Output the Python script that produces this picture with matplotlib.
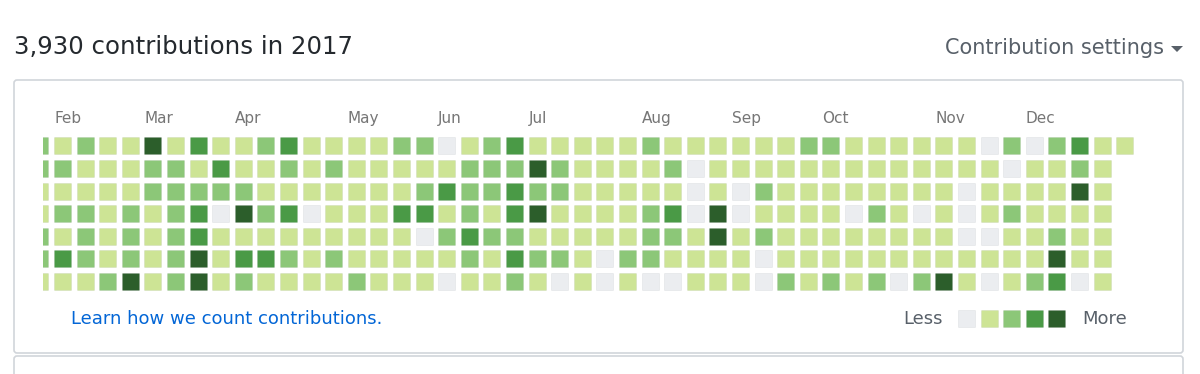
import matplotlib
matplotlib.use("Agg")
import matplotlib.pyplot as plt
from matplotlib.patches import Rectangle, FancyBboxPatch, Polygon

# contribution level per day (0..4); one list per weekday row, one entry per week column
sun = [2, 1, 2, 1, 1, 4, 1, 3, 1, 1, 2, 3, 1, 1, 1, 1, 2, 2, 0, 1, 2, 3, 1, 1, 1,
       1, 1, 2, 1, 1, 1, 1, 1, 1, 2, 2, 1, 1, 1, 1, 1, 1, 0, 2, 0, 2, 3, 1, 1]
mon = [2, 2, 1, 1, 1, 2, 2, 1, 3, 1, 1, 2, 1, 2, 1, 1, 1, 1, 1, 2, 2, 2, 4, 2, 1,
       1, 1, 1, 2, 0, 1, 1, 1, 1, 1, 1, 1, 1, 1, 1, 1, 1, 1, 0, 1, 1, 2, 1]
tue = [1, 1, 1, 1, 1, 2, 2, 2, 2, 2, 1, 1, 1, 1, 1, 1, 1, 2, 3, 2, 2, 3, 2, 2, 1,
       1, 1, 1, 1, 0, 1, 0, 2, 1, 1, 1, 1, 1, 1, 1, 1, 0, 1, 1, 1, 1, 4, 1]
wed = [1, 2, 2, 1, 2, 1, 2, 3, 0, 4, 2, 3, 0, 1, 1, 1, 3, 3, 1, 2, 1, 3, 4, 1, 1,
       1, 1, 2, 3, 0, 4, 0, 1, 1, 1, 1, 0, 2, 1, 0, 1, 0, 1, 2, 1, 1, 1, 1]
thu = [2, 1, 2, 1, 2, 1, 2, 3, 1, 1, 1, 1, 1, 1, 1, 1, 1, 0, 2, 3, 2, 2, 1, 1, 1,
       1, 1, 2, 2, 1, 4, 1, 2, 1, 1, 1, 1, 1, 1, 1, 1, 0, 0, 1, 1, 2, 1, 1]
fri = [2, 3, 2, 1, 2, 1, 2, 4, 1, 3, 3, 2, 1, 2, 1, 1, 1, 1, 1, 2, 1, 3, 2, 2, 1,
       0, 2, 2, 1, 1, 1, 1, 0, 1, 1, 1, 1, 1, 1, 1, 1, 1, 1, 1, 1, 4, 1, 1]
sat = [1, 1, 1, 2, 4, 1, 2, 4, 1, 2, 1, 1, 1, 1, 2, 1, 1, 1, 0, 1, 1, 2, 1, 0, 1,
       0, 1, 0, 0, 1, 1, 1, 0, 2, 1, 2, 1, 2, 0, 2, 4, 1, 0, 1, 2, 3, 0, 1]
days = [sun, mon, tue, wed, thu, fri, sat]

months = ['Feb', 'Mar', 'Apr', 'May', 'Jun', 'Jul', 'Aug', 'Sep', 'Oct', 'Nov', 'Dec']
month_week = [1, 5, 9, 14, 18, 22, 27, 31, 35, 40, 44]

palette = ['#ebedf0', '#cde495', '#8cc778', '#4a9a46', '#2c5e2b']

W, H = 1200, 374
fig = plt.figure(figsize=(W / 100, H / 100), dpi=100)

# page layer in pixel coordinates: boxes and texts
bg = fig.add_axes([0, 0, 1, 1])
bg.set_xlim(0, W)
bg.set_ylim(H, 0)
bg.axis('off')

border = '#d1d5da'
bg.add_patch(FancyBboxPatch((14, 80), 1169, 273, boxstyle='round,pad=0,rounding_size=3',
                            fc='white', ec=border, lw=1.2))
bg.add_patch(FancyBboxPatch((14, 356), 1169, 40, boxstyle='round,pad=0,rounding_size=3',
                            fc='white', ec=border, lw=1.2))

bg.text(14, 47, '3,930 contributions in 2017', fontsize=17.6, color='#24292e',
        va='center', ha='left')
bg.text(1164, 48, 'Contribution settings', fontsize=15, color='#586069',
        va='center', ha='right')
bg.add_patch(Polygon([(1171, 46), (1183, 46), (1177, 52)], closed=True, fc='#586069', ec='none'))

bg.text(71, 319, 'Learn how we count contributions.', fontsize=13, color='#0366d6',
        va='center', ha='left')
bg.text(943, 319, 'Less', fontsize=13, color='#586069', va='center', ha='right')
bg.text(1082, 319, 'More', fontsize=13, color='#586069', va='center', ha='left')

# calendar grid, one data unit per week / weekday
step = 22.6
x_org, y_org = 31.4, 137.3
left_px, right_px, top_px, bot_px = 43, 1150, 100, 340
ax = fig.add_axes([left_px / W, 1 - bot_px / H, (right_px - left_px) / W, (bot_px - top_px) / H])
ax.set_xlim((left_px - x_org) / step, (right_px - x_org) / step)
ax.set_ylim((bot_px - y_org) / step, (top_px - y_org) / step)
ax.axis('off')

cell = 17 / step
for row, vals in enumerate(days):
    for week, lvl in enumerate(vals):
        ax.add_patch(Rectangle((week, row), cell, cell, fc=palette[lvl],
                               ec=(0.1, 0.12, 0.14, 0.06), lw=0.6))

for name, wk in zip(months, month_week):
    ax.text(wk, -0.81, name, fontsize=11, color='#767676', va='center', ha='left')

# legend swatches
for i, c in enumerate(palette):
    ax.add_patch(Rectangle((41 + i, 7.64), cell, cell, fc=c,
                           ec=(0.1, 0.12, 0.14, 0.06), lw=0.6, clip_on=False))

fig.savefig('out.png', dpi=100)
